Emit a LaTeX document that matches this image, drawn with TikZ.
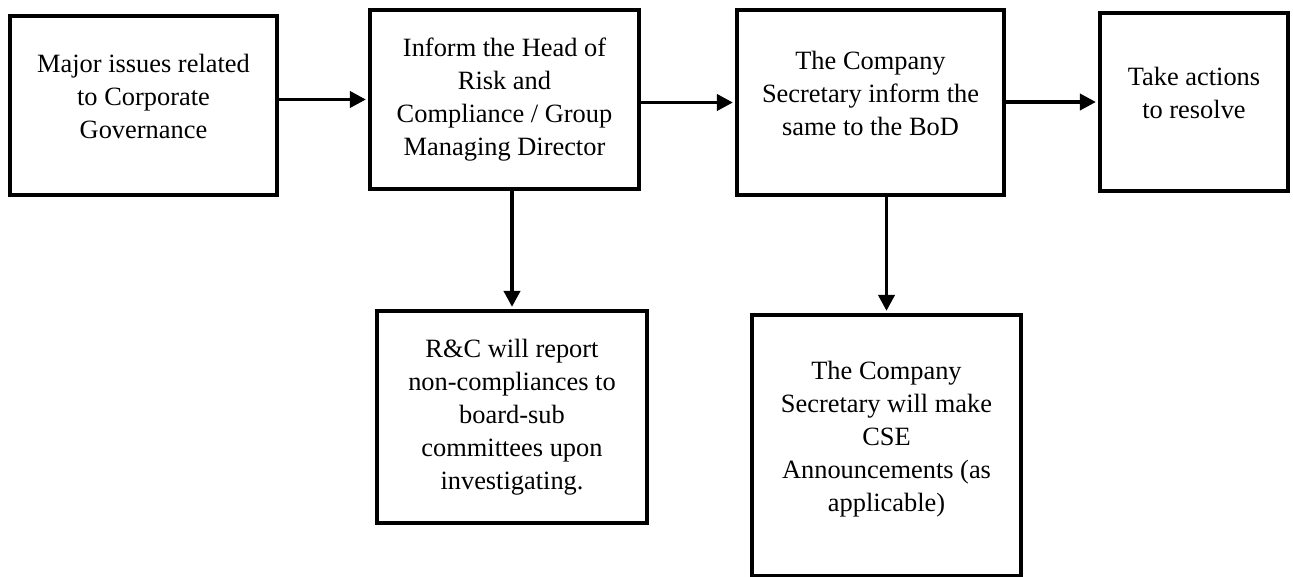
\documentclass[tikz,border=0pt]{standalone}
\usepackage{fontspec}
\setmainfont{Liberation Serif}
\usetikzlibrary{arrows.meta}
\begin{document}
\begin{tikzpicture}[x=0.5pt, y=-0.5pt,
    every node/.style={font=\fontsize{13.2pt}{16.5pt}\selectfont},
    box/.style={draw, line width=2.1pt, align=center, inner sep=0pt},
    lift/.style={text depth=#1},
    flow/.style={line width=1.9pt, -{Triangle[length=8pt, width=8pt]}, shorten >=1pt}]
    % Page frame
    \useasboundingbox (0,0) rectangle (1293,577);

    % Top row
    \node[box, lift=9pt, minimum width=133.5pt, minimum height=89.5pt] (issues) at (143.5,105.5)
        {Major issues related\\to Corporate\\Governance};
    \node[box, minimum width=134.5pt, minimum height=89.5pt] (inform) at (504.5,99.5)
        {Inform the Head of\\Risk and\\Compliance / Group\\Managing Director};
    \node[box, lift=9pt, minimum width=133.5pt, minimum height=92.5pt] (secretary) at (870.5,102.5)
        {The Company\\Secretary inform the\\same to the BoD};
    \node[box, lift=9pt, minimum width=94pt, minimum height=89pt] (actions) at (1194,102)
        {Take actions\\to resolve};

    % Bottom row
    \node[box, minimum width=135pt, minimum height=106pt] (report) at (512,417)
        {R\&C will report\\non-compliances to\\board-sub\\committees upon\\investigating.};
    \node[box, lift=9pt, minimum width=134.5pt, minimum height=130.5pt] (announce) at (886.5,445.5)
        {The Company\\Secretary will make\\CSE\\Announcements (as\\applicable)};

    % Arrows
    \draw[flow] (issues.east |- inform.west) -- (inform.west);
    \draw[flow] (inform.east |- secretary.west) -- (secretary.west);
    \draw[flow] (secretary.east |- actions.west) -- (actions.west);
    \draw[flow] (inform.south -| report.north) -- (report.north);
    \draw[flow] (secretary.south -| announce.north) -- (announce.north);
\end{tikzpicture}
\end{document}
